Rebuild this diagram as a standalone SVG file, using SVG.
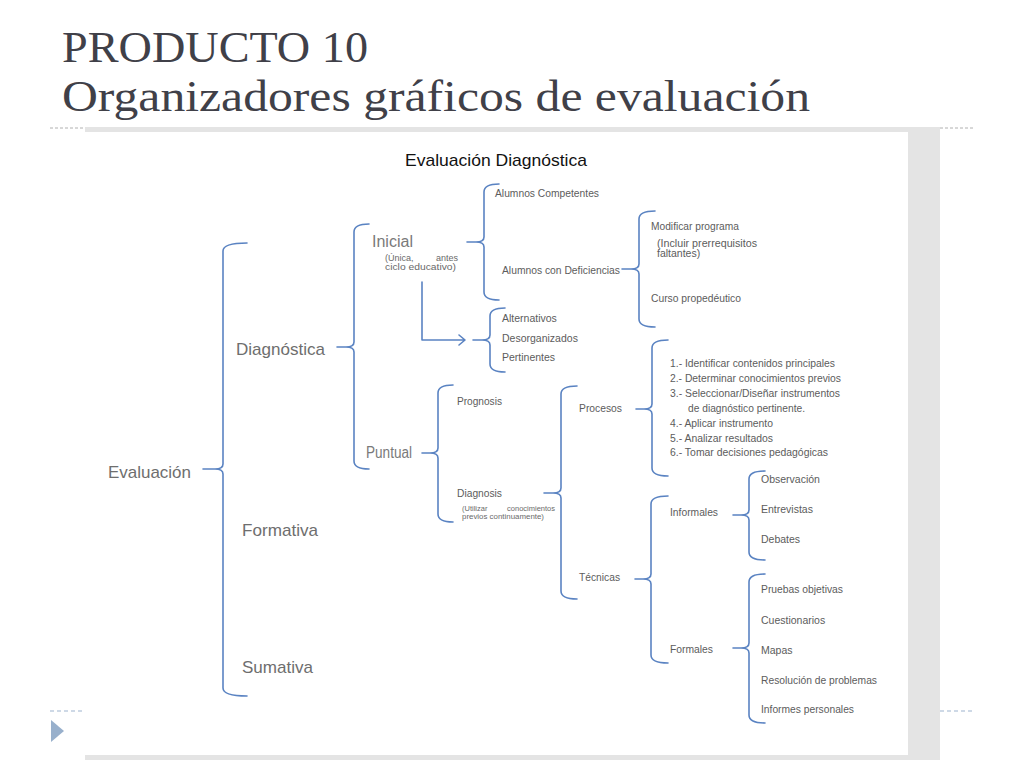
<svg xmlns="http://www.w3.org/2000/svg" width="1024" height="768" viewBox="0 0 1024 768">
<style>
.title{font-family:"Liberation Serif","Times New Roman",serif;font-size:44px;fill:#404048}
.brace{fill:none;stroke:#5a83c2;stroke-width:1.6;stroke-linecap:round;stroke-linejoin:round}
.big{font-family:"Liberation Sans",Arial,sans-serif;font-size:17px;fill:#6e6e6e}
.mid{font-family:"Liberation Sans",Arial,sans-serif;font-size:16px;fill:#7a7a7a}
.sm{font-family:"Liberation Sans",Arial,sans-serif;font-size:10.5px;fill:#5c5c5c}
.xs{font-family:"Liberation Sans",Arial,sans-serif;font-size:9px;fill:#6a6a6a}
.xxs{font-family:"Liberation Sans",Arial,sans-serif;font-size:7.5px;fill:#6a6a6a}
.hd{font-family:"Liberation Sans",Arial,sans-serif;font-size:17px;fill:#111}
</style>
<rect width="1024" height="768" fill="#ffffff"/>
<g id="slide-title">
<text class="title" x="62" y="62" textLength="306" lengthAdjust="spacingAndGlyphs">PRODUCTO 10</text>
<text class="title" x="62" y="111" textLength="748" lengthAdjust="spacingAndGlyphs">Organizadores gráficos de evaluación</text>
</g>
<g id="slide-lines">
<line x1="50" y1="128" x2="85" y2="128" stroke="#b0b0b0" stroke-width="1" stroke-dasharray="3,2"/>
<line x1="940" y1="128" x2="973" y2="128" stroke="#b0b0b0" stroke-width="1" stroke-dasharray="3,2"/>
<line x1="50" y1="711" x2="85" y2="711" stroke="#9db3ce" stroke-width="1" stroke-dasharray="4,3"/>
<line x1="940" y1="711" x2="973" y2="711" stroke="#9db3ce" stroke-width="1" stroke-dasharray="4,3"/>
<polygon points="51,720 64,731 51,742" fill="#98b0cc"/>
</g>
<g id="frame">
<rect x="85" y="127" width="855" height="633" fill="#e4e4e4"/>
<rect x="85" y="132" width="823" height="623" fill="#ffffff"/>
</g>
<g id="connectors">
<path class="brace" d="M247,243 Q223,243 223,251 L223,464 Q223,469 215,469 L203,469 M215,469 Q223,469 223,474 L223,688 Q223,696 247,696"/>
<path class="brace" d="M369,224 Q354,224 354,232 L354,342 Q354,347 346,347 L337,347 M346,347 Q354,347 354,352 L354,461 Q354,469 369,469"/>
<path class="brace" d="M499,184 Q484,184 484,192 L484,237 Q484,242 476,242 L467,242 M476,242 Q484,242 484,247 L484,292 Q484,300 499,300"/>
<path class="brace" d="M655,211 Q639,211 639,219 L639,264 Q639,269 631,269 L622,269 M631,269 Q639,269 639,274 L639,319 Q639,327 655,327"/>
<path class="brace" d="M505,308 Q490,308 490,316 L490,335 Q490,340 482,340 L473,340 M482,340 Q490,340 490,345 L490,364 Q490,372 505,372"/>
<path class="brace" d="M453,385 Q438,385 438,393 L438,448 Q438,453 430,453 L422,453 M430,453 Q438,453 438,458 L438,514 Q438,522 453,522"/>
<path class="brace" d="M577,386 Q561,386 561,394 L561,488 Q561,493 553,493 L544,493 M553,493 Q561,493 561,498 L561,591 Q561,599 577,599"/>
<path class="brace" d="M668,340 Q652,340 652,348 L652,404 Q652,409 644,409 L636,409 M644,409 Q652,409 652,414 L652,468 Q652,476 668,476"/>
<path class="brace" d="M668,496 Q651,496 651,504 L651,574 Q651,579 643,579 L635,579 M643,579 Q651,579 651,584 L651,655 Q651,663 668,663"/>
<path class="brace" d="M765,471 Q749,471 749,479 L749,510 Q749,515 741,515 L733,515 M741,515 Q749,515 749,520 L749,552 Q749,560 765,560"/>
<path class="brace" d="M765,574 Q749,574 749,582 L749,643 Q749,648 741,648 L733,648 M741,648 Q749,648 749,653 L749,715 Q749,723 765,723"/>
<path class="brace" d="M422,282 L422,340 L465,340 M459,335 L465,340 L459,345"/>
</g>
<g id="heading"><text class="hd" x="405" y="166" textLength="182" lengthAdjust="spacingAndGlyphs">Evaluación Diagnóstica</text></g>
<g id="n-evaluacion"><text class="big" x="108" y="478" textLength="83" lengthAdjust="spacingAndGlyphs">Evaluación</text></g>
<g id="n-diagnostica"><text class="big" x="236" y="355" textLength="89" lengthAdjust="spacingAndGlyphs">Diagnóstica</text></g>
<g id="n-formativa"><text class="big" x="242" y="536" textLength="76" lengthAdjust="spacingAndGlyphs">Formativa</text></g>
<g id="n-sumativa"><text class="big" x="242" y="673" textLength="71" lengthAdjust="spacingAndGlyphs">Sumativa</text></g>
<g id="n-inicial">
<text class="mid" x="372" y="247" textLength="41" lengthAdjust="spacingAndGlyphs">Inicial</text>
<text class="xs" x="385" y="261">(Única,</text>
<text class="xs" x="458" y="261" text-anchor="end">antes</text>
<text class="xs" x="385" y="270" textLength="71" lengthAdjust="spacingAndGlyphs">ciclo educativo)</text>
</g>
<g id="n-puntual"><text class="mid" x="366" y="458" font-size="14" textLength="46" lengthAdjust="spacingAndGlyphs">Puntual</text></g>
<g id="n-competentes"><text class="sm" x="495" y="197" textLength="104" lengthAdjust="spacingAndGlyphs">Alumnos Competentes</text></g>
<g id="n-deficiencias"><text class="sm" x="502" y="274" textLength="118" lengthAdjust="spacingAndGlyphs">Alumnos con Deficiencias</text></g>
<g id="n-modificar">
<text class="sm" x="651" y="230" textLength="88" lengthAdjust="spacingAndGlyphs">Modificar programa</text>
<text class="sm" x="657" y="247" textLength="100" lengthAdjust="spacingAndGlyphs">(Incluir  prerrequisitos</text>
<text class="sm" x="657" y="257">faltantes)</text>
</g>
<g id="n-curso"><text class="sm" x="651" y="302" textLength="90" lengthAdjust="spacingAndGlyphs">Curso propedéutico</text></g>
<g id="n-alternativos"><text class="sm" x="502" y="322">Alternativos</text></g>
<g id="n-desorganizados"><text class="sm" x="502" y="342">Desorganizados</text></g>
<g id="n-pertinentes"><text class="sm" x="502" y="361">Pertinentes</text></g>
<g id="n-prognosis"><text class="sm" x="457" y="405" textLength="45" lengthAdjust="spacingAndGlyphs">Prognosis</text></g>
<g id="n-diagnosis">
<text class="sm" x="457" y="497" textLength="45" lengthAdjust="spacingAndGlyphs">Diagnosis</text>
<text class="xxs" x="462" y="511">(Utilizar</text>
<text class="xxs" x="555" y="511" text-anchor="end">conocimientos</text>
<text class="xxs" x="462" y="519" textLength="82" lengthAdjust="spacingAndGlyphs">previos continuamente)</text>
</g>
<g id="n-procesos"><text class="sm" x="579" y="412" textLength="43" lengthAdjust="spacingAndGlyphs">Procesos</text></g>
<g id="n-pasos">
<text class="sm" x="670" y="367" textLength="165" lengthAdjust="spacingAndGlyphs">1.- Identificar contenidos principales</text>
<text class="sm" x="670" y="382" textLength="171" lengthAdjust="spacingAndGlyphs">2.- Determinar conocimientos previos</text>
<text class="sm" x="670" y="397" textLength="170" lengthAdjust="spacingAndGlyphs">3.- Seleccionar/Diseñar instrumentos</text>
<text class="sm" x="688" y="412" textLength="117" lengthAdjust="spacingAndGlyphs">de diagnóstico pertinente.</text>
<text class="sm" x="670" y="427" textLength="103" lengthAdjust="spacingAndGlyphs">4.- Aplicar instrumento</text>
<text class="sm" x="670" y="442" textLength="103" lengthAdjust="spacingAndGlyphs">5.- Analizar resultados</text>
<text class="sm" x="670" y="456" textLength="158" lengthAdjust="spacingAndGlyphs">6.- Tomar decisiones pedagógicas</text>
</g>
<g id="n-tecnicas"><text class="sm" x="579" y="581" textLength="41" lengthAdjust="spacingAndGlyphs">Técnicas</text></g>
<g id="n-informales"><text class="sm" x="670" y="516" textLength="48" lengthAdjust="spacingAndGlyphs">Informales</text></g>
<g id="n-observacion"><text class="sm" x="761" y="483">Observación</text></g>
<g id="n-entrevistas"><text class="sm" x="761" y="513">Entrevistas</text></g>
<g id="n-debates"><text class="sm" x="761" y="543">Debates</text></g>
<g id="n-formales"><text class="sm" x="670" y="653" textLength="43" lengthAdjust="spacingAndGlyphs">Formales</text></g>
<g id="n-pruebas"><text class="sm" x="761" y="593" textLength="82" lengthAdjust="spacingAndGlyphs">Pruebas objetivas</text></g>
<g id="n-cuestionarios"><text class="sm" x="761" y="624">Cuestionarios</text></g>
<g id="n-mapas"><text class="sm" x="761" y="654">Mapas</text></g>
<g id="n-resolucion"><text class="sm" x="761" y="684" textLength="116" lengthAdjust="spacingAndGlyphs">Resolución de problemas</text></g>
<g id="n-informes"><text class="sm" x="761" y="713" textLength="93" lengthAdjust="spacingAndGlyphs">Informes personales</text></g>
</svg>
